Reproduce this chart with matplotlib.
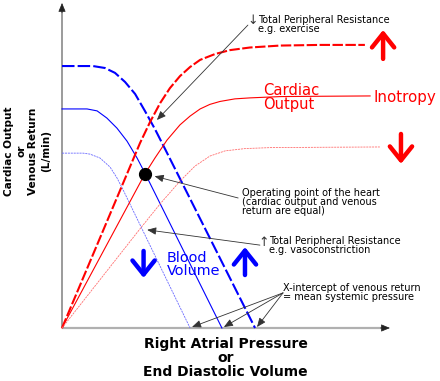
import matplotlib.pyplot as plt

# Units: axes origin at (0, 0) (1 unit ~ 32.5 px)

# venous return curves (blue): high, normal and low blood volume
vr_high_x = [0, 0.95, 1.32, 1.63, 1.94, 2.25, 2.55, 2.86, 3.17, 5.94]
vr_high_y = [8.06, 8.06, 8.0, 7.85, 7.57, 7.2, 6.68, 6.12, 5.51, 0]
vr_norm_x = [0, 0.77, 1.08, 1.38, 1.69, 2.0, 2.31, 2.55, 4.92]
vr_norm_y = [6.74, 6.74, 6.68, 6.46, 6.15, 5.75, 5.23, 4.77, 0]
vr_low_x = [0, 0.65, 0.86, 1.17, 1.48, 1.69, 1.88, 3.94]
vr_low_y = [5.38, 5.38, 5.35, 5.23, 4.95, 4.62, 4.25, 0]

# cardiac output curves (red): high, normal and low inotropy
co_high_x = [0, 2.4, 2.71, 3.02, 3.32, 3.63, 3.94, 4.25, 4.71, 5.17, 5.78, 6.71, 7.94, 9.32]
co_high_y = [0, 5.69, 6.34, 6.92, 7.38, 7.75, 8.03, 8.25, 8.43, 8.55, 8.63, 8.69, 8.71, 8.71]
co_norm_x = [0, 2.55, 2.86, 3.23, 3.63, 3.94, 4.25, 4.55, 4.86, 5.32, 5.78, 6.71, 7.94, 9.48]
co_norm_y = [0, 4.74, 5.23, 5.78, 6.25, 6.52, 6.74, 6.88, 6.97, 7.05, 7.08, 7.12, 7.13, 7.14]
co_low_x = [0, 2.4, 3.02, 3.63, 4.09, 4.55, 5.02, 5.63, 6.4, 7.94, 9.78]
co_low_y = [0, 3.05, 3.82, 4.52, 4.98, 5.29, 5.45, 5.52, 5.55, 5.56, 5.57]

# operating point (normal curves cross)
op_x, op_y = 2.55, 4.75

fig = plt.figure(figsize=(4.4, 3.81), dpi=100)
ax = fig.add_axes([0, 0, 1, 1])
ax.set_xlim(-1.908, 11.631)
ax.set_ylim(-1.631, 10.092)
ax.axis('off')

# axes with arrow tips
ax.plot([0, 9.95], [0, 0], color='#b0b0b0', lw=1.6, solid_capstyle='butt', zorder=1)
ax.plot([0, 0], [0, 9.85], color='#808080', lw=1.1, solid_capstyle='butt', zorder=1)
ax.annotate('', xy=(10.09, 0), xytext=(9.8, 0),
            arrowprops=dict(arrowstyle='-|>,head_length=0.6,head_width=0.25', color='#222222',
                            lw=0.5, mutation_scale=9, shrinkA=0, shrinkB=0))
ax.annotate('', xy=(0, 10.0), xytext=(0, 9.7),
            arrowprops=dict(arrowstyle='-|>,head_length=0.6,head_width=0.25', color='#222222',
                            lw=0.5, mutation_scale=9, shrinkA=0, shrinkB=0))

# curves
ax.plot(vr_high_x, vr_high_y, color='#0000ff', lw=1.5, dashes=(6, 1.5))
ax.plot(vr_norm_x, vr_norm_y, color='#0000ff', lw=0.8)
ax.plot(vr_low_x, vr_low_y, color='#6a6aff', lw=0.6, dashes=(2.5, 1))
ax.plot(co_high_x, co_high_y, color='#ff0000', lw=1.5, dashes=(5, 1.2))
ax.plot(co_norm_x, co_norm_y, color='#ff0000', lw=0.8)
ax.plot(co_low_x, co_low_y, color='#ff7070', lw=0.6, dashes=(2.5, 1))
ax.plot(op_x, op_y, 'o', color='black', ms=8.5, zorder=5)

# big arrows
big = dict(arrowstyle='->,head_length=0.5,head_width=0.4', lw=3.2, mutation_scale=20,
           shrinkA=0, shrinkB=0)
ax.annotate('', xy=(9.88, 9.17), xytext=(9.88, 8.28), arrowprops=dict(color='red', **big))
ax.annotate('', xy=(10.43, 5.05), xytext=(10.43, 5.97), arrowprops=dict(color='red', **big))
ax.annotate('', xy=(2.51, 1.54), xytext=(2.51, 2.37), arrowprops=dict(color='blue', **big))
ax.annotate('', xy=(5.63, 2.49), xytext=(5.63, 1.63), arrowprops=dict(color='blue', **big))

# red / blue labels
ax.text(6.18, 7.18, 'Cardiac', color='red', fontsize=10.6, va='baseline')
ax.text(6.18, 6.75, 'Output', color='red', fontsize=10.6, va='baseline')
ax.text(9.57, 6.95, 'Inotropy', color='red', fontsize=10.8, va='baseline')
ax.text(3.23, 2.04, 'Blood', color='blue', fontsize=10.4, va='baseline')
ax.text(3.23, 1.63, 'Volume', color='blue', fontsize=10.4, va='baseline')

# annotations
small = dict(arrowstyle='-|>,head_length=0.6,head_width=0.25', color='#333333', lw=0.6,
             mutation_scale=9, shrinkA=0, shrinkB=0)
fs = 7
ax.annotate('', xy=(2.92, 6.40), xytext=(5.72, 9.32), arrowprops=small)
ax.text(5.88, 9.45, '↓', fontsize=9, color='#333333', ha='center', va='center')
ax.text(6.03, 9.39, 'Total Peripheral Resistance', fontsize=fs, va='baseline')
ax.text(6.03, 9.10, 'e.g. exercise', fontsize=fs, va='baseline')

ax.annotate('', xy=(op_x + 0.3, op_y - 0.08), xytext=(5.42, 4.0), arrowprops=small)
ax.text(5.54, 4.07, 'Operating point of the heart', fontsize=fs, va='baseline')
ax.text(5.54, 3.79, '(cardiac output and venous', fontsize=fs, va='baseline')
ax.text(5.54, 3.51, 'return are equal)', fontsize=fs, va='baseline')

ax.annotate('', xy=(2.62, 3.02), xytext=(6.09, 2.55), arrowprops=small)
ax.text(6.22, 2.62, '↑', fontsize=9, color='#333333', ha='center', va='center')
ax.text(6.37, 2.58, 'Total Peripheral Resistance', fontsize=fs, va='baseline')
ax.text(6.37, 2.30, 'e.g. vasoconstriction', fontsize=fs, va='baseline')

for xi in [vr_low_x[-1], vr_norm_x[-1], vr_high_x[-1]]:
    ax.annotate('', xy=(xi + 0.06, 0.03), xytext=(6.8, 1.08), arrowprops=small)
ax.text(6.8, 1.13, 'X-intercept of venous return', fontsize=fs, va='baseline')
ax.text(6.8, 0.86, '= mean systemic pressure', fontsize=fs, va='baseline')

# axis titles
ax.text(5.03, -0.92, 'Right Atrial Pressure\nor\nEnd Diastolic Volume', fontsize=10,
        fontweight='bold', ha='center', va='center', linespacing=1.0)
ax.text(-1.07, 5.45, 'Cardiac Output\nor\nVenous Return\n(L/min)', fontsize=7.6,
        fontweight='bold', ha='center', va='center', rotation=90, linespacing=1.3)

fig.savefig('out.png', dpi=100)
